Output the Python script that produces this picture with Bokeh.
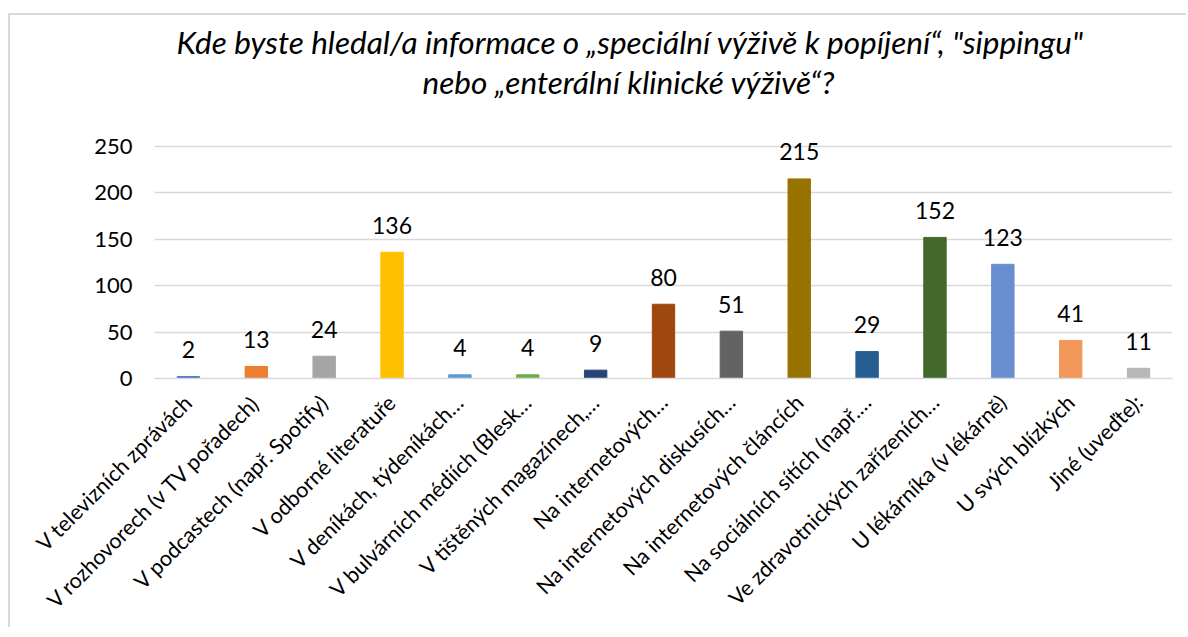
import math
from bokeh.plotting import figure
from bokeh.models import ColumnDataSource, Title, FixedTicker
from bokeh.core.properties import value
from bokeh.embed import file_html
from bokeh.resources import INLINE

categories = [
    "V televizních zprávách",
    "V rozhovorech (v TV pořadech)",
    "V podcastech (např. Spotify)",
    "V odborné literatuře",
    "V deníkách, týdeníkách…",
    "V bulvárních médiích (Blesk…",
    "V tištěných magazínech,…",
    "Na internetových…",
    "Na internetových diskusích…",
    "Na internetových článcích",
    "Na sociálních sítích (např.…",
    "Ve zdravotnických zařízeních…",
    "U lékárníka (v lékárně)",
    "U svých blízkých",
    "Jiné (uveďte):",
]
counts = [2, 13, 24, 136, 4, 4, 9, 80, 51, 215, 29, 152, 123, 41, 11]
colors = ["#4472C4", "#ED7D31", "#A5A5A5", "#FFC000", "#5B9BD5", "#70AD47",
          "#264478", "#9E480E", "#636363", "#997300", "#255E91", "#43682B",
          "#698ED0", "#F1975A", "#B7B7B7"]
y_ticks = [0, 50, 100, 150, 200, 250]
title_line1 = "Kde byste hledal/a informace o „speciální výživě k popíjení“, \"sippingu\""
title_line2 = "nebo „enterální klinické výživě“?"

FONT = "Lato"

src = ColumnDataSource(dict(cat=categories, val=counts, col=colors,
                            lbl=[str(v) for v in counts]))

# y range has a little headroom above 250 so the top data label is not clipped
p = figure(x_range=categories, y_range=(0, 265), width=1178, height=614,
           output_backend="svg", toolbar_location=None,
           min_border_left=144, min_border_right=16,
           min_border_top=117, min_border_bottom=251)

p.vbar(x="cat", top="val", width=0.33, color="col", source=src)
p.text(x="cat", y="val", text="lbl", source=src, text_align="center",
       text_baseline="alphabetic", y_offset=-27, text_font=value(FONT),
       text_font_size="23px", text_color="#000000")

# spacer between the title block and the plot frame
p.add_layout(Title(text=" ", text_font_size="1px", standoff=29), "above")
p.add_layout(Title(text=title_line2, align="left", offset=268, text_font=FONT,
                   text_font_style="italic", text_font_size="31.5px",
                   text_color="#000000", standoff=0), "above")
p.add_layout(Title(text=title_line1, align="left", offset=22, text_font=FONT,
                   text_font_style="italic", text_font_size="31.5px",
                   text_color="#000000", standoff=0), "above")

p.outline_line_color = None
p.xgrid.grid_line_color = None
p.ygrid.grid_line_color = "#D9D9D9"
p.ygrid.grid_line_width = 1.5
p.yaxis.ticker = FixedTicker(ticks=y_ticks)
p.yaxis.axis_line_color = None
p.yaxis.major_tick_line_color = None
p.yaxis.minor_tick_line_color = None
p.yaxis.major_tick_out = 0
p.yaxis.major_label_text_font = FONT
p.yaxis.major_label_text_font_size = "22px"
p.yaxis.major_label_text_color = "#000000"
p.yaxis.major_label_standoff = 22

p.xaxis.axis_line_color = "#D9D9D9"
p.xaxis.axis_line_width = 1.5
p.xaxis.major_tick_line_color = None
p.xaxis.minor_tick_line_color = None
p.xaxis.major_tick_out = 0
p.xaxis.major_tick_in = 0
p.xaxis.major_label_orientation = math.pi / 4
p.xaxis.major_label_text_font = FONT
p.xaxis.major_label_text_font_size = "21.5px"
p.xaxis.major_label_text_color = "#000000"
p.xaxis.major_label_standoff = 20
p.x_range.range_padding = 0

p.styles = {"margin-left": "10px", "margin-top": "15px",
            "box-shadow": "-2px -2px 0 0 #D9D9D9"}

open("out.html", "w").write(file_html(p, INLINE))
